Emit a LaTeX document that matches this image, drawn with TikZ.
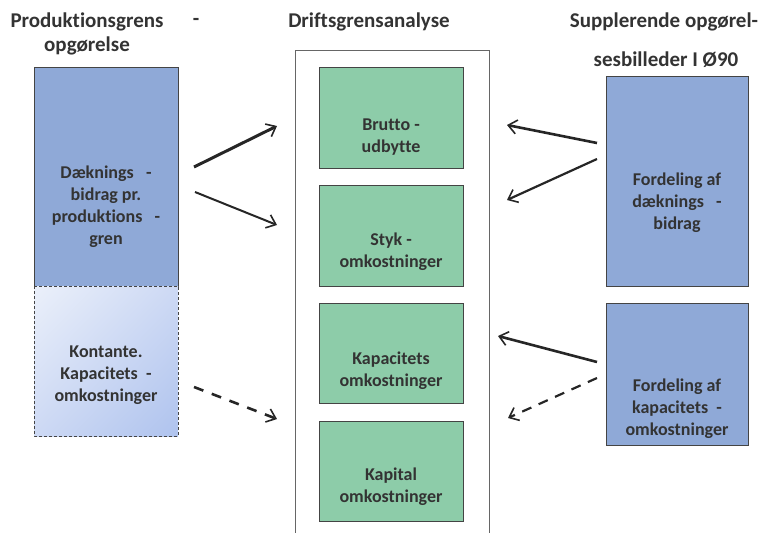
\documentclass[tikz,border=0pt]{standalone}
\usepackage{fontspec}
\setmainfont{Carlito}[Ligatures=NoCommon]
\usetikzlibrary{arrows.meta,shadings}
\definecolor{bluebox}{HTML}{8FA9D7}
\definecolor{greenbox}{HTML}{8DCCA9}
\definecolor{lightA}{HTML}{EBF0FA}
\definecolor{lightB}{HTML}{AFC3EE}
\definecolor{lightM}{HTML}{CDD9F4}
\definecolor{txt}{HTML}{333333}
\definecolor{edge}{HTML}{444444}
\begin{document}
\begin{tikzpicture}[x=1pt,y=-1pt,
  lbl/.style={font=\bfseries\fontsize{18}{22}\selectfont,text=txt,align=center,inner sep=0pt},
  ttl/.style={font=\bfseries\fontsize{21}{22}\selectfont,text=txt,inner sep=0pt},
  bluerect/.style={draw=edge,line width=1pt,fill=bluebox},
  greenrect/.style={draw=edge,line width=1pt,fill=greenbox},
  arr/.style={draw=black!85,-{Straight Barb[length=8.5pt,width=14pt,line width=1.6pt]}},
]
\useasboundingbox (0,0) rectangle (761,533);
% titles
\node[ttl] (t1) at (87,22) {Produktionsgrens};
\node[ttl] (t1d) at (196,22) {-};
\node[ttl] (t1b) at (87,46) {opgørelse};
\node[ttl] (t2) at (369,22) {Driftsgrensanalyse};
\node[ttl] (t3) at (664,22) {Supplerende opgørel-};
\node[ttl] (t3b) at (666,60) {sesbilleder I Ø90};
% left boxes
\path[bluerect] (34,67) rectangle (178,286);
\node[lbl] (db) at (106,207) {Dæknings \ \ -\\bidrag pr.\\produktions \ \ -\\gren};
\shade[upper left=lightA,lower right=lightB,upper right=lightM,lower left=lightM] (34,286) rectangle (178,436);
\path[draw=edge,line width=0.9pt,dash pattern=on 3pt off 2pt] (34,286) rectangle (178,436);
\node[lbl] (kk) at (106,375) {Kontante.\\Kapacitets \ -\\omkostninger};
\coordinate (L1s) at (194,167);
\coordinate (L1e) at (277,126);
\coordinate (L2s) at (195,192);
\coordinate (L2e) at (277,225);
\coordinate (L3s) at (194,387);
\coordinate (L3e) at (277,419);
% middle frame
\path[draw=black!60,line width=1pt] (295,545) -- (295,50) -- (489,50) -- (489,545);
\path[greenrect] (319,67) rectangle (463,168);
\node[lbl] (g1) at (391,137) {Brutto -\\udbytte};
\path[greenrect] (319,185) rectangle (463,286);
\node[lbl] (g2) at (391,252) {Styk -\\omkostninger};
\path[greenrect] (319,303) rectangle (463,403);
\node[lbl] (g3) at (391,371) {Kapacitets\\omkostninger};
\path[greenrect] (319,421) rectangle (463,521);
\node[lbl] (g4) at (391,487) {Kapital\\omkostninger};
% right boxes
\path[bluerect] (606,76) rectangle (748,286);
\node[lbl] (f1) at (677,203) {Fordeling af\\dæknings \ \ -\\bidrag};
\path[bluerect] (606,303) rectangle (748,445);
\node[lbl] (f2) at (677,409) {Fordeling af\\kapacitets \ -\\omkostninger};
\coordinate (R1s) at (597,143);
\coordinate (R1e) at (507,125);
\coordinate (R2s) at (597,159);
\coordinate (R2e) at (507,200);
\coordinate (R3s) at (597,362);
\coordinate (R3e) at (498,336);
\coordinate (R4s) at (597,378);
\coordinate (R4e) at (508,418);
% arrows
\draw[arr,line width=3pt] (L1s) -- (L1e);
\draw[arr,line width=2pt] (L2s) -- (L2e);
\draw[arr,line width=2.6pt,dash pattern=on 10pt off 9pt] (L3s) -- (L3e);
\draw[arr,line width=2.6pt] (R1s) -- (R1e);
\draw[arr,line width=2.2pt] (R2s) -- (R2e);
\draw[arr,line width=2.6pt] (R3s) -- (R3e);
\draw[arr,line width=2.2pt,dash pattern=on 10pt off 8pt] (R4s) -- (R4e);
\end{tikzpicture}
\end{document}
